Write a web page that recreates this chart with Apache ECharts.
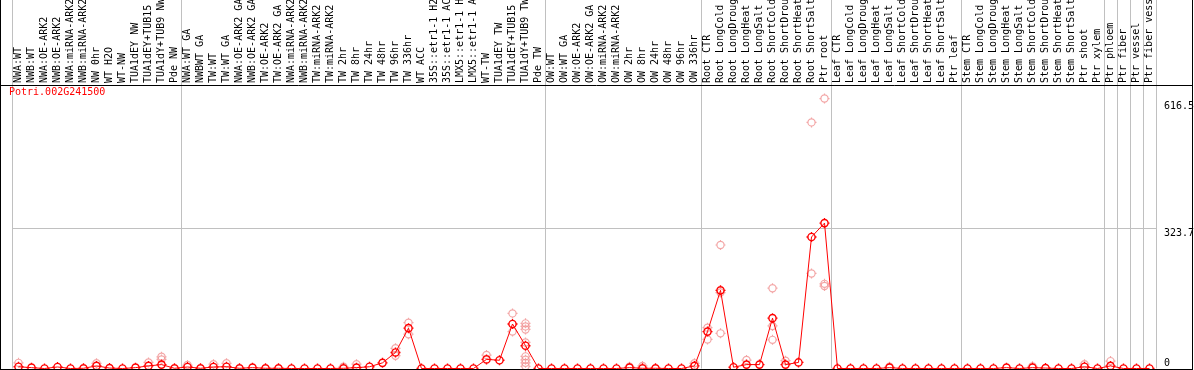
<!DOCTYPE html>
<html>
<head>
<meta charset="utf-8">
<script src="https://cdn.jsdelivr.net/npm/echarts@6/dist/echarts.min.js"></script>
<style>
html, body { margin: 0; padding: 0; background: #fff; }
#chart { width: 1194px; height: 370px; }
</style>
</head>
<body>
<div id="chart"></div>
<script>
const geneId = 'Potri.002G241500';

const samples = [
    'NWA:WT', 'NWB:WT', 'NWA:OE-ARK2', 'NWB:OE-ARK2', 'NWA:miRNA-ARK2', 'NWB:miRNA-ARK2',
    'NW 0hr', 'WT H2O', 'WT-NW', 'TUA1dEY NW', 'TUA1dEY+TUB15 NW', 'TUA1dY+TUB9 NW', 'Pde NW',
    'NWA:WT GA', 'NWBWT GA', 'TW:WT', 'TW:WT GA', 'NWA:OE-ARK2 GA', 'NWB:OE-ARK2 GA',
    'TW:OE-ARK2', 'TW:OE-ARK2 GA', 'NWA:miRNA-ARK2 GA', 'NWB:miRNA-ARK2 GA', 'TW:miRNA-ARK2',
    'TW:miRNA-ARK2 GA', 'TW 2hr', 'TW 8hr', 'TW 24hr', 'TW 48hr', 'TW 96hr', 'TW 336hr', 'WT ACC',
    '35S::etr1-1 H2O', '35S::etr1-1 ACC', 'LMX5::etr1-1 H2O', 'LMX5::etr1-1 ACC', 'WT-TW',
    'TUA1dEY TW', 'TUA1dEY+TUB15 TW', 'TUA1dY+TUB9 TW', 'Pde TW',
    'OW:WT', 'OW:WT GA', 'OW:OE-ARK2', 'OW:OE-ARK2 GA', 'OW:miRNA-ARK2', 'OW:miRNA-ARK2 GA',
    'OW 2hr', 'OW 8hr', 'OW 24hr', 'OW 48hr', 'OW 96hr', 'OW 336hr',
    'Root CTR', 'Root LongCold', 'Root LongDrought', 'Root LongHeat', 'Root LongSalt',
    'Root ShortCold', 'Root ShortDrought', 'Root ShortHeat', 'Root ShortSalt', 'Ptr root',
    'Leaf CTR', 'Leaf LongCold', 'Leaf LongDrought', 'Leaf LongHeat', 'Leaf LongSalt',
    'Leaf ShortCold', 'Leaf ShortDrought', 'Leaf ShortHeat', 'Leaf ShortSalt', 'Ptr leaf',
    'Stem CTR', 'Stem LongCold', 'Stem LongDrought', 'Stem LongHeat', 'Stem LongSalt',
    'Stem ShortCold', 'Stem ShortDrought', 'Stem ShortHeat', 'Stem ShortSalt', 'Ptr shoot',
    'Ptr xylem', 'Ptr phloem', 'Ptr fiber', 'Ptr vessel', 'Ptr fiber vessel'
];

// mean expression per sample
const meanExpr = [
    4, 2, 0, 3.5, 0, 0.5, 6, 1, 0, 2, 6, 9, 0.5,
    3.5, 0.5, 3.5, 4, 0.5, 2, 0.5, 0.5, 0, 0, 0, 0, 0.5, 2, 4, 13, 37, 93, 0, 0, 0, 0, 0, 21, 19, 102.5, 52.5, 0,
    0, 0, 0, 0, 0, 0, 2, 0.5, 0.5, 0, 0, 6,
    85, 180, 3, 9, 9, 116, 9, 14, 303, 335,
    0, 0, 0, 0, 2, 0, 0, 0, 0, 0,
    0, 0, 0, 2, 0, 2, 1, 0, 0, 4,
    0, 6, 0, 0, 0
];

// replicate values that stand apart from the mean, as [sample index, value]
const rep1 = [
    [0, 13], [6, 12], [10, 14], [11, 27], [13, 8], [15, 10], [16, 12], [25, 4], [26, 10],
    [29, 46.5], [30, 105.5], [36, 31], [38, 127], [39, 104], [47, 4], [48, 6], [52, 12],
    [53, 94], [54, 284.5], [56, 19.5], [58, 185], [59, 18], [61, 567], [62, 622],
    [67, 4], [78, 5], [82, 10], [84, 17]
];
const rep2 = [
    [11, 21], [29, 29.5], [30, 79], [38, 85], [39, 97], [53, 67], [54, 81], [58, 66],
    [61, 219], [62, 190]
];
const rep3 = [[39, 90], [54, 175], [58, 98], [62, 195]];
const tub9TwReps = [60, 28, 20, 13, 5];

const yLabelsUpper = [323.7, 616.5];
const yLabelsLower = [0];
const groupStarts = [0, 13, 41, 53, 63, 73, 84, 85, 86, 87];

const mono = 'DejaVu Sans Mono';
// hollow circle with four small ticks, like the original plotter's marker
const tickCircle = 'path://M0,-5V-3.6M0,3.6V5M-5,0H-3.6M3.6,0H5M-3.6,0A3.6,3.6,0,1,1,3.6,0A3.6,3.6,0,1,1,-3.6,0Z';
const toPoints = list => list.map(([i, v]) => [samples[i], v]);

const chart = echarts.init(document.getElementById('chart'));

const repPoints = toPoints(rep1)
    .concat(toPoints(rep2), toPoints(rep3))
    .concat(tub9TwReps.map(v => ['TUA1dY+TUB9 TW', v]));

const option = {
    animation: false,
    title: {
        text: geneId,
        left: 9,
        top: 87,
        padding: 0,
        textStyle: { color: '#ff0000', fontSize: 10, fontWeight: 'normal', fontFamily: mono }
    },
    grid: { left: 12, right: 38, top: 0, bottom: 1.5, outerBoundsMode: 'none', containLabel: false },
    xAxis: {
        type: 'category',
        data: samples,
        position: 'top',
        offset: -85,
        boundaryGap: true,
        axisLine: { show: false },
        axisTick: { show: false },
        axisLabel: {
            interval: 0,
            rotate: 90,
            margin: 2,
            fontSize: 10,
            fontFamily: mono,
            color: '#000'
        },
        splitLine: {
            show: true,
            interval: i => groupStarts.includes(i),
            lineStyle: { color: '#c0c0c0', width: 1 }
        }
    },
    yAxis: [
        {
            type: 'value',
            position: 'right',
            min: 0,
            max: 849,
            axisLine: { show: false },
            axisTick: { show: false, customValues: [323.7] },
            splitLine: { show: true, lineStyle: { color: '#c0c0c0', width: 1 } },
            axisLabel: {
                customValues: yLabelsUpper,
                verticalAlign: 'top',
                margin: 8,
                fontSize: 10,
                fontFamily: mono,
                color: '#000'
            }
        },
        {
            type: 'value',
            position: 'right',
            min: 0,
            max: 849,
            axisLine: { show: false },
            axisTick: { show: false },
            splitLine: { show: false },
            axisLabel: {
                customValues: yLabelsLower,
                verticalAlign: 'bottom',
                margin: 8,
                fontSize: 10,
                fontFamily: mono,
                color: '#000'
            }
        }
    ],
    series: [
        {
            name: 'replicates',
            type: 'scatter',
            data: repPoints,
            symbol: tickCircle,
            symbolSize: 10,
            itemStyle: { color: 'rgba(0,0,0,0)', borderColor: '#f09090', borderWidth: 1.2 },
            z: 2
        },
        {
            name: 'mean',
            type: 'line',
            data: meanExpr,
            symbol: tickCircle,
            symbolSize: 10,
            showAllSymbol: true,
            lineStyle: { color: '#ff0000', width: 1 },
            itemStyle: { color: 'rgba(0,0,0,0)', borderColor: '#ff0000', borderWidth: 1.4 },
            z: 3
        }
    ],
    graphic: {
        elements: [
            { type: 'line', z: 100, shape: { x1: 0.5, y1: 0, x2: 0.5, y2: 370 }, style: { stroke: '#000', lineWidth: 1 } },
            { type: 'line', z: 100, shape: { x1: 1192.5, y1: 0, x2: 1192.5, y2: 370 }, style: { stroke: '#000', lineWidth: 1 } },
            { type: 'line', z: 100, shape: { x1: 0, y1: 85.5, x2: 1193, y2: 85.5 }, style: { stroke: '#000', lineWidth: 1 } },
            { type: 'line', z: 100, shape: { x1: 0, y1: 369.5, x2: 1193, y2: 369.5 }, style: { stroke: '#000', lineWidth: 1 } }
        ]
    }
};

chart.setOption(option);
</script>
</body>
</html>
